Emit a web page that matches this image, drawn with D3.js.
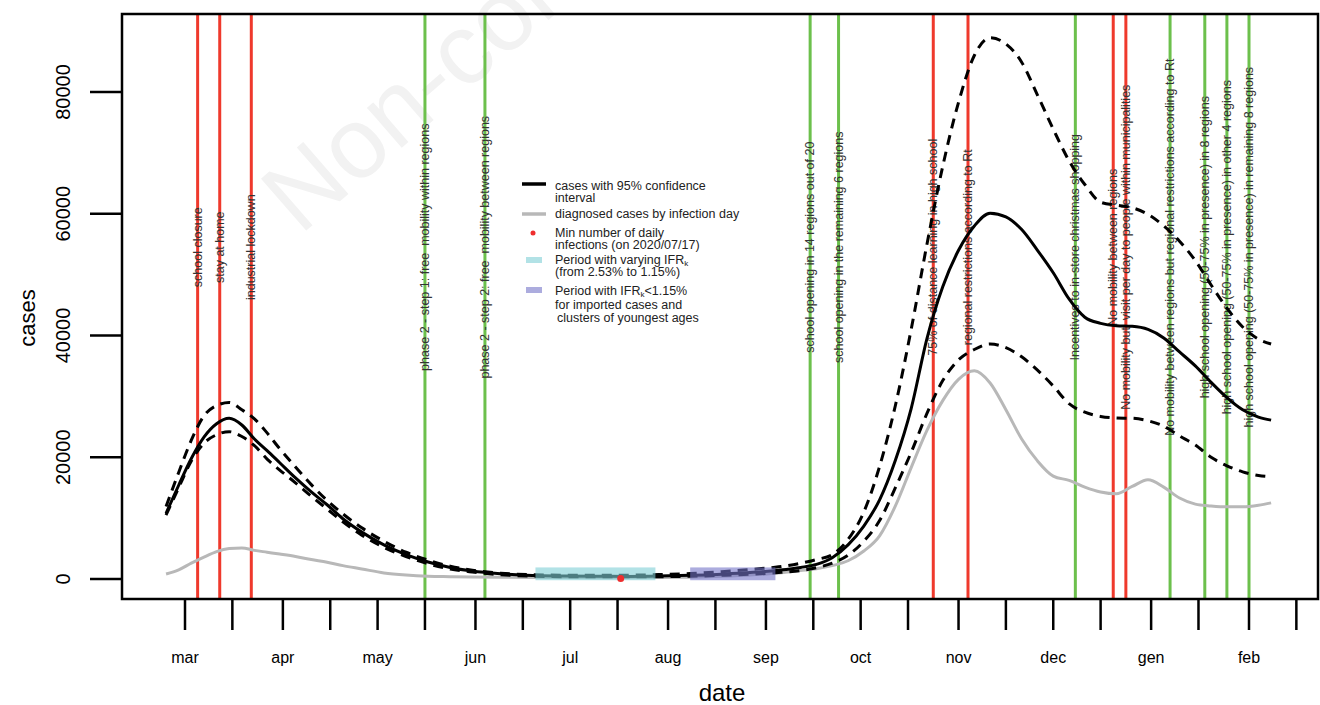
<!DOCTYPE html>
<html>
<head>
<meta charset="utf-8">
<script src="https://cdn.jsdelivr.net/npm/d3@7"></script>
<style>
body{margin:0;background:#fff;}
svg{font-family:"Liberation Sans",Arial,sans-serif;}
</style>
</head>
<body>
<svg id="chart" width="1320" height="705"></svg>
<script>
//series: days counted from 2020-03-01
var dayOffsets = [-6,-2,2,6,10,14,18,22,26,30, 35,40,45,50,56,63,70,77,84,91,
    100,110,120,130,140,150,160,170,180,188, 195,200,205,210,215,220,225,230,235,240,
    245,250,255,260,265,270,275,280,285,290, 295,300,305,310,315,320,325,330,335,340, 344];

var casesEst = [10800,15400,19800,23300,25500,26400,25300,23000,21100,19100,
    16600,14300,12200,9900,7700,5600,4000,2800,1900,1300,
    850,560,480,440,430,480,600,800,1100,1450,
    1900,2400,3500,5600,8700,13000,19500,28000,39500,48000,
    54000,58000,60100,59500,57400,54000,50300,46000,43000,42000,
    41600,41500,41000,39600,37300,35000,32300,29800,27800,26600, 26100];

var casesUpper = [11900,17500,22800,26800,28500,29000,27800,26300,24000,21400,
    18400,15500,12900,10700,8400,6200,4400,3100,2100,1450,
    950,700,620,600,620,720,900,1200,1600,2000,
    2600,3200,4000,6500,11000,18500,28500,41000,55000,67800,
    78300,86000,88900,87900,84900,79500,73900,68700,64800,61900,
    61400,61000,59900,58000,55500,52300,48300,44500,41400,39400, 38600];

var casesLower = [10500,15000,19400,22300,23700,24200,23400,21900,19700,17900,
    15800,13600,11500,9400,7200,5200,3700,2500,1650,1150,
    700,450,380,350,350,380,450,600,800,1050,
    1400,1850,2600,3900,6200,9600,15000,20800,27200,32600,
    36000,37700,38600,38000,36500,34300,31700,28800,27400,26700,
    26450,26400,26000,25100,23500,22000,20000,18600,17600,17000, 16800];

var diagnosed = [820,1500,2600,3600,4500,5000,5100,4700,4400,4100,
    3700,3200,2750,2200,1650,1000,650,450,380,320,
    280,260,250,220,200,230,300,450,700,1000,
    1400,1700,2200,3000,4600,7100,12000,18300,24400,29300,
    32800,34200,32200,27800,23000,19400,16900,16200,15100,14300,
    14000,15200,16300,15100,13300,12300,12000,11850,11850,12100, 12500];

//interventions
var eventDates = ['2020-03-05','2020-03-12','2020-03-22','2020-05-16','2020-06-04',
    '2020-09-15','2020-09-24','2020-10-24','2020-11-04','2020-12-08',
    '2020-12-20','2020-12-24','2021-01-07','2021-01-18','2021-01-25','2021-02-01'];
var eventRestrict = [true,true,true,false,false,false,false,true,true,false,true,true,false,false,false,false];
var eventLabels = ['school closure','stay at home','industrial lockdown',
    'phase 2 - step 1: free  mobility within regions',
    'phase 2 - step 2: free  mobility between regions',
    'school opening in 14 regions out of 20',
    'school opening in the remaining 6 regions',
    '75% of distance learning in high school',
    'regional restrictions according to Rt',
    'Incentives to in-store christmas shopping',
    'No mobility between regions',
    'No mobility but  visit per day to people within municipalities',
    'No mobility between regions but regional restrictions according to Rt',
    'high school opening (50-75% in presence) in 8 regions',
    'high school opening (50-75% in presence) in other 4 regions',
    'high school opening (50-75% in presence) in remaining 8 regions'];
var eventLabelLevel = 54500;

var varyingPeriod = ['2020-06-20','2020-07-28'];
var lowIfrPeriod = ['2020-08-08','2020-09-04'];
var periodBand = [-200, 1900];
var minDate = '2020-07-17', minValue = 80;

var monthLabels = ['mar','apr','may','jun','jul','aug','sep','oct','nov','dec','gen','feb'];
var yTicks = [0,20000,40000,60000,80000];

var parse = d3.timeParse('%Y-%m-%d');
var start = parse('2020-03-01');
var dates = dayOffsets.map(function(d){ return d3.timeDay.offset(start, d); });

var box = {left:122, right:1318, top:14, bottom:599};
var x = d3.scaleTime().domain([start, parse('2021-02-01')]).range([185,1249]);
var y = d3.scaleLinear().domain([0,80000]).range([579,92]);

var svg = d3.select('#chart');
svg.append('rect').attr('width',1320).attr('height',705).style('fill','#fff');

//faint watermark
svg.append('text')
   .attr('transform','translate(300,236) rotate(-41)')
   .text('Non-commercial')
   .style('font-size','100px')
   .style('fill','#f2f2f2');

//event lines
var events = svg.append('g').selectAll('g')
    .data(eventDates.map(function(d,i){ return {date:parse(d), red:eventRestrict[i], label:eventLabels[i]}; }))
    .enter().append('g');
events.append('line')
      .attr('x1',function(d){ return x(d.date); })
      .attr('x2',function(d){ return x(d.date); })
      .attr('y1',box.top).attr('y2',box.bottom)
      .style('stroke',function(d){ return d.red ? '#ef392c' : '#6cc04c'; })
      .style('stroke-width',3);

//curves
var line = d3.line()
    .x(function(d){ return x(d[0]); })
    .y(function(d){ return y(d[1]); })
    .curve(d3.curveMonotoneX);
var zip = function(vals){ return dates.map(function(d,i){ return [d, vals[i]]; }); };

svg.append('path').attr('d', line(zip(diagnosed)))
   .style('fill','none').style('stroke','#b8b8b8').style('stroke-width',3);
svg.append('path').attr('d', line(zip(casesUpper)))
   .style('fill','none').style('stroke','#000').style('stroke-width',3).style('stroke-dasharray','10,7');
svg.append('path').attr('d', line(zip(casesLower)))
   .style('fill','none').style('stroke','#000').style('stroke-width',3).style('stroke-dasharray','10,7');
svg.append('path').attr('d', line(zip(casesEst)))
   .style('fill','none').style('stroke','#000').style('stroke-width',3);

//IFR periods
var band = function(p, color){
    svg.append('rect')
       .attr('x', x(parse(p[0])))
       .attr('width', x(parse(p[1])) - x(parse(p[0])))
       .attr('y', y(periodBand[1]))
       .attr('height', y(periodBand[0]) - y(periodBand[1]))
       .style('fill', color).style('opacity',0.6);
};
band(varyingPeriod, '#7fcfd6');
band(lowIfrPeriod, '#7474c8');

svg.append('circle')
   .attr('cx', x(parse(minDate))).attr('cy', y(minValue)).attr('r',3.5)
   .style('fill','#ee2e2e');

//event labels
events.append('text')
      .attr('transform',function(d){ return 'translate('+x(d.date)+','+y(eventLabelLevel)+') rotate(-90)'; })
      .attr('text-anchor','middle')
      .attr('dominant-baseline','central')
      .style('font-size','12.5px')
      .style('white-space','pre')
      .style('fill','#333')
      .text(function(d){ return d.label; });

//frame
svg.append('rect')
   .attr('x',box.left).attr('y',box.top)
   .attr('width',box.right-box.left).attr('height',box.bottom-box.top)
   .style('fill','none').style('stroke','#000').style('stroke-width',2.5);

//x axis
var xTicks = [];
d3.timeMonth.range(start, parse('2021-03-01')).forEach(function(m){
    xTicks.push(m);
    xTicks.push(d3.timeDay.offset(m,15));
});
var xAxis = svg.append('g');
xAxis.selectAll('line').data(xTicks).enter().append('line')
     .attr('x1',function(d){ return x(d); }).attr('x2',function(d){ return x(d); })
     .attr('y1',box.bottom).attr('y2',box.bottom+31)
     .style('stroke','#000').style('stroke-width',2.5);
xAxis.selectAll('text').data(xTicks.filter(function(d){ return d.getDate()===1; })).enter().append('text')
     .attr('x',function(d){ return x(d); }).attr('y',657)
     .attr('text-anchor','middle').attr('dominant-baseline','central')
     .style('font-size','16px')
     .text(function(d,i){ return monthLabels[i]; });
svg.append('text').attr('x',722).attr('y',692)
   .attr('text-anchor','middle').attr('dominant-baseline','central')
   .style('font-size','24px').text('date');

//y axis
var yAxis = svg.append('g');
yAxis.selectAll('line').data(yTicks).enter().append('line')
     .attr('x1',90).attr('x2',box.left)
     .attr('y1',function(d){ return y(d); }).attr('y2',function(d){ return y(d); })
     .style('stroke','#000').style('stroke-width',2.5);
yAxis.selectAll('text').data(yTicks).enter().append('text')
     .attr('transform',function(d){ return 'translate(63,'+y(d)+') rotate(-90)'; })
     .attr('text-anchor','middle').attr('dominant-baseline','central')
     .style('font-size','20px')
     .text(function(d){ return d; });
svg.append('text').attr('transform','translate(27,318) rotate(-90)')
   .attr('text-anchor','middle').attr('dominant-baseline','central')
   .style('font-size','22px').text('cases');

//legend
var lg = svg.append('g').style('font-size','12.5px').style('fill','#222');
lg.append('line').attr('x1',522).attr('x2',546).attr('y1',184).attr('y2',184)
  .style('stroke','#000').style('stroke-width',3.5);
lg.append('line').attr('x1',522).attr('x2',546).attr('y1',214).attr('y2',214)
  .style('stroke','#b8b8b8').style('stroke-width',3.5);
lg.append('circle').attr('cx',533).attr('cy',233).attr('r',2.5).style('fill','#ee2e2e');
lg.append('rect').attr('x',526).attr('y',257).attr('width',16).attr('height',6)
  .style('fill','#7fcfd6').style('opacity',0.6);
lg.append('rect').attr('x',526).attr('y',287).attr('width',16).attr('height',6)
  .style('fill','#7474c8').style('opacity',0.6);

var legendRows = [
    [555,186,'cases with 95% confidence'],
    [555,198,'interval'],
    [555,214,'diagnosed cases by infection day'],
    [555,233,'Min number of daily'],
    [555,245,'infections (on 2020/07/17)'],
    [555,272,'(from 2.53% to 1.15%)'],
    [555,305,'for imported cases and'],
    [557,318,'clusters of youngest ages']
];
lg.selectAll('text.row').data(legendRows).enter().append('text').attr('class','row')
  .attr('x',function(d){ return d[0]; }).attr('y',function(d){ return d[1]; })
  .attr('dominant-baseline','central')
  .text(function(d){ return d[2]; });

var ifr1 = lg.append('text').attr('x',555).attr('y',260).attr('dominant-baseline','central');
ifr1.append('tspan').text('Period with varying IFR');
ifr1.append('tspan').attr('dy',3).style('font-size','8px').text('k');
var ifr2 = lg.append('text').attr('x',555).attr('y',291).attr('dominant-baseline','central');
ifr2.append('tspan').text('Period with IFR');
ifr2.append('tspan').attr('dy',3).style('font-size','8px').text('k');
ifr2.append('tspan').attr('dy',-3).text('<1.15%');
</script>
</body>
</html>
